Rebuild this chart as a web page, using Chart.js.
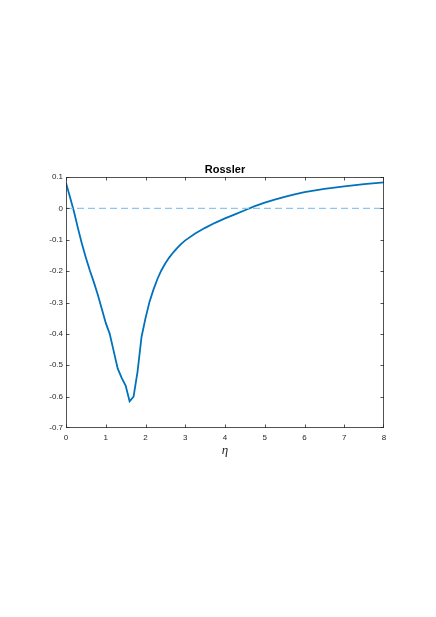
<!DOCTYPE html>
<html>
<head>
<meta charset="utf-8">
<script src="https://cdn.jsdelivr.net/npm/chart.js@4/dist/chart.umd.min.js"></script>
<style>
html,body{margin:0;padding:0;background:#fff;}
#wrap{width:436px;height:617px;}
</style>
</head>
<body>
<div id="wrap"><canvas id="c" width="436" height="617"></canvas></div>
<script>
const chartTitle = "Rossler";
const xAxisLabel = "η";
const etaValues = [0,0.1,0.2,0.3,0.4,0.5,0.6,0.7,0.8,0.9,1.0,1.1,1.2,1.3,1.4,1.5,1.6,1.7,1.8,1.9,2.0,2.1,2.2,2.3,2.4,2.5,2.6,2.7,2.8,2.9,3.0,3.25,3.5,3.75,4.0,4.25,4.5,4.75,5.0,5.25,5.5,5.75,6.0,6.5,7.0,7.5,8.0];
const rosslerValues = [0.081,0.036,-0.01,-0.063,-0.113,-0.157,-0.198,-0.235,-0.275,-0.32,-0.365,-0.40,-0.455,-0.51,-0.54,-0.565,-0.615,-0.6,-0.52,-0.41,-0.35,-0.298,-0.259,-0.225,-0.197,-0.175,-0.156,-0.14,-0.126,-0.113,-0.102,-0.080,-0.062,-0.046,-0.032,-0.019,-0.006,0.007,0.018,0.028,0.037,0.045,0.052,0.062,0.070,0.077,0.083];
const referenceEta = [0,8];
const referenceValues = [0,0];
const xTicks = [0,1,2,3,4,5,6,7,8];
const yTicks = [-0.7,-0.6,-0.5,-0.4,-0.3,-0.2,-0.1,0,0.1];

const boxPlugin = {
  id:'box',
  afterDatasetsDraw(chart){
    const {ctx, chartArea:a, scales:{x,y}} = chart;
    ctx.save();
    ctx.strokeStyle = '#262626';
    ctx.lineWidth = 0.8;
    ctx.beginPath();
    ctx.rect(a.left+0.5, a.top+0.5, a.right-a.left-1, a.bottom-a.top-1);
    ctx.stroke();
    const tl = 3.5;
    ctx.beginPath();
    xTicks.forEach(v=>{
      const px = Math.min(Math.round(x.getPixelForValue(v))+0.5, a.right-0.5);
      ctx.moveTo(px,a.bottom); ctx.lineTo(px,a.bottom-tl);
      ctx.moveTo(px,a.top); ctx.lineTo(px,a.top+tl);
    });
    yTicks.forEach(v=>{
      const py = Math.min(Math.round(y.getPixelForValue(v))+0.5, a.bottom-0.5);
      ctx.moveTo(a.left,py); ctx.lineTo(a.left+tl,py);
      ctx.moveTo(a.right,py); ctx.lineTo(a.right-tl,py);
    });
    ctx.stroke();
    ctx.fillStyle = '#000';
    ctx.font = 'bold 11px "Liberation Sans", Arial, sans-serif';
    ctx.textAlign = 'center';
    ctx.textBaseline = 'alphabetic';
    ctx.fillText(chartTitle, (a.left+a.right)/2, a.top-4.5);
    ctx.restore();
  }
};

new Chart(document.getElementById('c'), {
  type:'line',
  data:{
    datasets:[
      {
        data: referenceEta.map((e,i)=>({x:e,y:referenceValues[i]})),
        borderColor:'#8cc6ee',
        borderWidth:1.3,
        borderDash:[7,4],
        pointRadius:0,
        tension:0
      },
      {
        data: etaValues.map((e,i)=>({x:e,y:rosslerValues[i]})),
        borderColor:'#0072BD',
        borderWidth:1.8,
        pointRadius:0,
        tension:0
      }
    ]
  },
  options:{
    responsive:false,
    animation:false,
    layout:{padding:{left:0,right:52,top:177,bottom:159}},
    plugins:{
      legend:{display:false},
      tooltip:{enabled:false},
      title:{display:false}
    },
    scales:{
      x:{
        type:'linear',min:0,max:8,
        afterFit(s){s.height=30;},
        afterBuildTicks(s){s.ticks=xTicks.map(v=>({value:v}));},
        grid:{display:false,drawTicks:false},
        border:{display:false},
        ticks:{padding:5,color:'#262626',font:{family:'Liberation Sans',size:8},maxRotation:0,callback:v=>String(v)},
        title:{display:true,text:xAxisLabel,color:'#262626',font:{family:'Liberation Serif',size:13,style:'italic'},padding:0}
      },
      y:{
        type:'linear',min:-0.7,max:0.1,
        afterFit(s){s.width=66;},
        afterBuildTicks(s){s.ticks=yTicks.map(v=>({value:v}));},
        grid:{display:false,drawTicks:false},
        border:{display:false},
        ticks:{padding:3,color:'#262626',font:{family:'Liberation Sans',size:8},callback:v=>{const r=Math.round(v*10)/10;return r===0?'0':String(r);}}
      }
    }
  },
  plugins:[boxPlugin]
});
</script>
</body>
</html>
